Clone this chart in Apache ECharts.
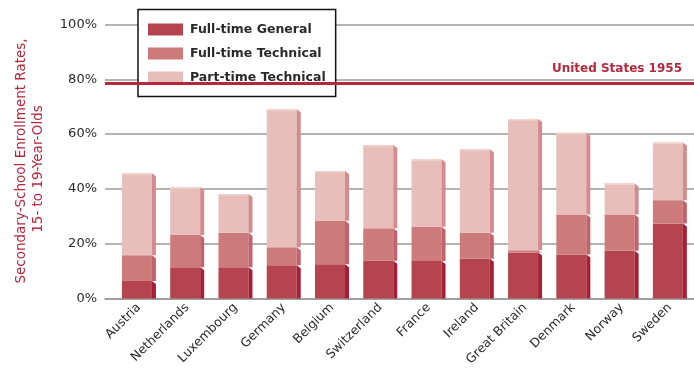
<!DOCTYPE html>
<html>
<head>
<meta charset="utf-8">
<style>
  html, body { margin: 0; padding: 0; background: #fff; }
  #chart { width: 694px; height: 371px; }
</style>
<script src="https://cdn.jsdelivr.net/npm/echarts@6/dist/echarts.min.js"></script>
</head>
<body>
<div id="chart"></div>
<script>
// Secondary-school enrollment rates of 15- to 19-year-olds, by programme type (%)
const countries = ['Austria', 'Netherlands', 'Luxembourg', 'Germany', 'Belgium', 'Switzerland',
  'France', 'Ireland', 'Great Britain', 'Denmark', 'Norway', 'Sweden'];
const fullTimeGeneral   = [6.4, 11.4, 11.4, 12.1, 12.5, 13.8, 13.7, 14.5, 16.8, 16.1, 17.4, 27.4];
const fullTimeTechnical = [9.4, 11.8, 12.6, 6.6, 15.9, 11.8, 12.5, 9.5, 0.8, 14.6, 13.3, 8.5];
const partTimeTechnical = [29.9, 17.4, 14.1, 50.4, 18.1, 30.4, 24.6, 30.5, 47.9, 29.8, 11.3, 21.0];
const unitedStates1955 = 78.6;
const yTicks = [0, 20, 40, 60, 80, 100];

const FONT = 'DejaVu Sans';
const RED = '#b5283c';

// Stacked segments as [category, base, top]
function segments(values, below) {
  return values.map((v, i) => {
    const base = below.reduce((s, arr) => s + arr[i], 0);
    return [i, base, base + v];
  });
}

// Bar with a shaded right-hand face
function barRenderer(front, side, topEdge) {
  return function (params, api) {
    const c = api.value(0);
    const lo = api.coord([c, api.value(1)]);
    const hi = api.coord([c, api.value(2)]);
    const fw = 30, sw = 4;
    const left = lo[0] - (fw + sw) / 2;
    const children = [
      { type: 'rect', shape: { x: left, y: hi[1], width: fw, height: lo[1] - hi[1] },
        style: { fill: front } },
      { type: 'polygon', shape: { points: [[left + fw, hi[1]], [left + fw + sw, hi[1] + 3],
          [left + fw + sw, lo[1]], [left + fw, lo[1]]] }, style: { fill: side } }
    ];
    if (topEdge) {
      children.push({ type: 'rect', shape: { x: left, y: hi[1], width: fw, height: 1.5 },
        style: { fill: topEdge } });
    }
    return { type: 'group', children };
  };
}

const chart = echarts.init(document.getElementById('chart'), null, { renderer: 'canvas' });

chart.setOption({
  animation: false,
  backgroundColor: '#fff',
  grid: [
    { left: 105, right: 0, top: 24.5, bottom: 72.5 },
    { left: 114.8, right: -1.2, top: 24.5, bottom: 72.5 }
  ],
  xAxis: [
    { type: 'category', gridIndex: 0, data: countries,
      axisLine: { show: true, lineStyle: { color: '#9a9a9a', width: 1.5 } },
      axisTick: { show: false }, axisLabel: { show: false }, splitLine: { show: false } },
    { type: 'category', gridIndex: 1, data: countries,
      axisLine: { show: false }, axisTick: { show: false },
      axisLabel: { rotate: 45, margin: 7, fontFamily: FONT, fontSize: 12.5, color: '#2a2a2a' } }
  ],
  yAxis: [
    { type: 'value', gridIndex: 0, min: yTicks[0], max: yTicks[yTicks.length - 1], interval: 20,
      axisLine: { show: false }, axisTick: { show: false },
      axisLabel: { formatter: '{value}%', margin: 8, fontFamily: FONT, fontSize: 13, color: '#2a2a2a' },
      splitLine: { lineStyle: { color: '#9a9a9a', width: 1.5 } } },
    { type: 'value', gridIndex: 1, min: yTicks[0], max: yTicks[yTicks.length - 1], interval: 20,
      show: false, splitLine: { show: false } }
  ],
  legend: {
    orient: 'vertical',
    left: 138, top: 9.5,
    padding: [13, 10, 12, 10],
    itemWidth: 35, itemHeight: 12, itemGap: 10,
    backgroundColor: '#fff',
    borderColor: '#111', borderWidth: 1.5,
    icon: 'rect',
    textStyle: { fontFamily: FONT, fontSize: 12.5, fontWeight: 'bold', color: '#2a2a2a',
      padding: [0, 0, 0, 2], lineHeight: 14 },
    data: ['Full-time General', 'Full-time Technical', 'Part-time Technical']
  },
  graphic: [
    { type: 'text', x: 21, y: 161, rotation: Math.PI / 2, z: 10,
      style: { text: 'Secondary-School Enrollment Rates,', fill: RED, font: '13.5px "DejaVu Sans"',
        align: 'center', verticalAlign: 'middle' } },
    { type: 'text', x: 38, y: 169, rotation: Math.PI / 2, z: 10,
      style: { text: '15- to 19-Year-Olds', fill: RED, font: '13.5px "DejaVu Sans"',
        align: 'center', verticalAlign: 'middle' } }
  ],
  series: [
    {
      name: 'United States 1955', type: 'line', xAxisIndex: 0, yAxisIndex: 0, data: [],
      markLine: {
        silent: true, symbol: 'none',
        lineStyle: { color: RED, width: 3, type: 'solid' },
        label: { show: true, position: 'insideEndTop', distance: [12, 8], formatter: 'United States 1955',
          color: RED, fontFamily: FONT, fontSize: 12, fontWeight: 'bold' },
        data: [{ yAxis: unitedStates1955 }]
      }
    },
    {
      name: 'Full-time General', type: 'custom', xAxisIndex: 1, yAxisIndex: 1,
      itemStyle: { color: '#b5444f' },
      renderItem: barRenderer('#b5444f', '#a61f37'),
      data: segments(fullTimeGeneral, [])
    },
    {
      name: 'Full-time Technical', type: 'custom', xAxisIndex: 1, yAxisIndex: 1,
      itemStyle: { color: '#cd7a7a' },
      renderItem: barRenderer('#cd7a7a', '#c2636b'),
      data: segments(fullTimeTechnical, [fullTimeGeneral])
    },
    {
      name: 'Part-time Technical', type: 'custom', xAxisIndex: 1, yAxisIndex: 1,
      itemStyle: { color: '#e8beba' },
      renderItem: barRenderer('#e8beba', '#d58b8c', '#f0d3d0'),
      data: segments(partTimeTechnical, [fullTimeGeneral, fullTimeTechnical])
    }
  ]
});
</script>
</body>
</html>
